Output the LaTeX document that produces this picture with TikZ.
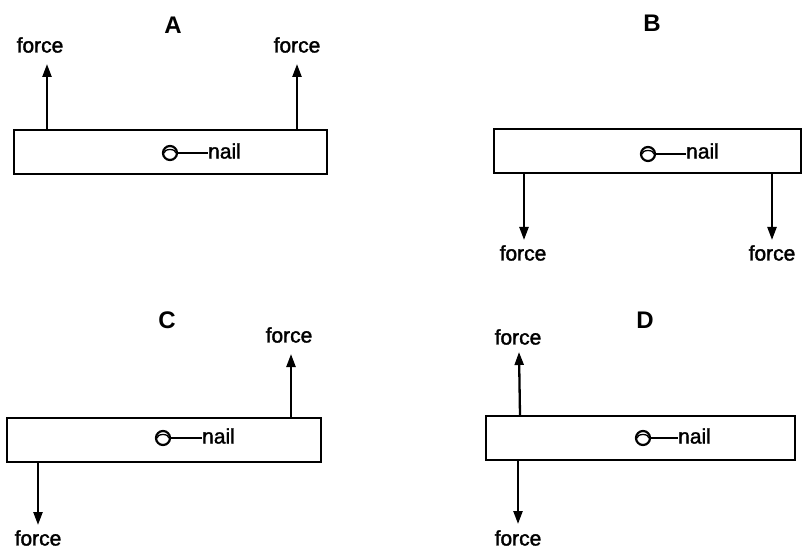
\documentclass[tikz,border=0pt]{standalone}
\usepackage{fontspec}
\setmainfont{Liberation Sans}
\newfontfamily\heavysans[FakeBold=1.6]{Liberation Sans}
\usetikzlibrary{arrows.meta}
\tikzset{
  bar/.style={draw, line width=2pt, inner sep=0pt, minimum height=44pt},
  forcearrow/.style={line width=2.3pt, -{Triangle[length=13pt,width=9pt]}},
  lbl/.style={inner sep=0pt, font=\fontsize{21}{25}\heavysans},
  ttl/.style={inner sep=0pt, font=\fontsize{24}{28}\selectfont\bfseries},
  nailc/.style={circle, draw, line width=2.2pt, minimum size=14pt, inner sep=0pt},
  naillbl/.style={inner sep=0pt, anchor=west, font=\fontsize{21}{25}\heavysans},
  nailline/.style={line width=1.8pt},
}
\newcommand{\nailmark}[1]{%
  \draw[line width=1.3pt] ([xshift=-6pt]#1.center) arc[start angle=180, end angle=0, x radius=6pt, y radius=3.5pt];}
\begin{document}
\begin{tikzpicture}[x=1pt, y=-1pt]
\useasboundingbox (0,0) rectangle (803,553);
% ---------- A ----------
\node[ttl] (tA) at (173,25) {A};
\node[bar, minimum width=313pt] (barA) at (170.5,152.5) {};
\node[lbl] (fA1) at (40,45) {force};
\node[lbl] (fA2) at (297,45) {force};
\coordinate (sA1) at (47,131);
\coordinate (eA1) at (47,64);
\coordinate (sA2) at (297,131);
\coordinate (eA2) at (297,64);
\draw[forcearrow] (sA1) -- (eA1);
\draw[forcearrow] (sA2) -- (eA2);
\node[nailc] (nA) at (170,153) {};
\nailmark{nA}
\node[naillbl] (lA) at (208,151) {nail};
\draw[nailline] (nA.east) -- (nA.east -| lA.west);
% ---------- B ----------
\node[ttl] (tB) at (652,23) {B};
\node[bar, minimum width=307pt] (barB) at (647.5,151.5) {};
\node[lbl] (fB1) at (523,253) {force};
\node[lbl] (fB2) at (772,253) {force};
\coordinate (sB1) at (524,174);
\coordinate (eB1) at (524,240);
\coordinate (sB2) at (772,174);
\coordinate (eB2) at (772,240);
\draw[forcearrow] (sB1) -- (eB1);
\draw[forcearrow] (sB2) -- (eB2);
\node[nailc] (nB) at (648,154) {};
\nailmark{nB}
\node[naillbl] (lB) at (686,151) {nail};
\draw[nailline] (nB.east) -- (nB.east -| lB.west);
% ---------- C ----------
\node[ttl] (tC) at (167,320) {C};
\node[bar, minimum width=314pt] (barC) at (164,439.5) {};
\node[lbl] (fC1) at (289,335) {force};
\node[lbl] (fC2) at (38,538) {force};
\coordinate (sC1) at (291,417);
\coordinate (eC1) at (291,354);
\coordinate (sC2) at (38,462);
\coordinate (eC2) at (38,525);
\draw[forcearrow] (sC1) -- (eC1);
\draw[forcearrow] (sC2) -- (eC2);
\node[nailc] (nC) at (163,438) {};
\nailmark{nC}
\node[naillbl] (lC) at (202,436) {nail};
\draw[nailline] (nC.east) -- (nC.east -| lC.west);
% ---------- D ----------
\node[ttl] (tD) at (645,320) {D};
\node[bar, minimum width=309pt] (barD) at (640.5,438) {};
\node[lbl] (fD1) at (518,337) {force};
\node[lbl] (fD2) at (518,538) {force};
\coordinate (sD1) at (520,415);
\coordinate (eD1) at (519,352);
\coordinate (sD2) at (518,461);
\coordinate (eD2) at (518,524);
\draw[forcearrow] (sD1) -- (eD1);
\draw[forcearrow] (sD2) -- (eD2);
\node[nailc] (nD) at (643,438) {};
\nailmark{nD}
\node[naillbl] (lD) at (678,436) {nail};
\draw[nailline] (nD.east) -- (nD.east -| lD.west);
\end{tikzpicture}
\end{document}
